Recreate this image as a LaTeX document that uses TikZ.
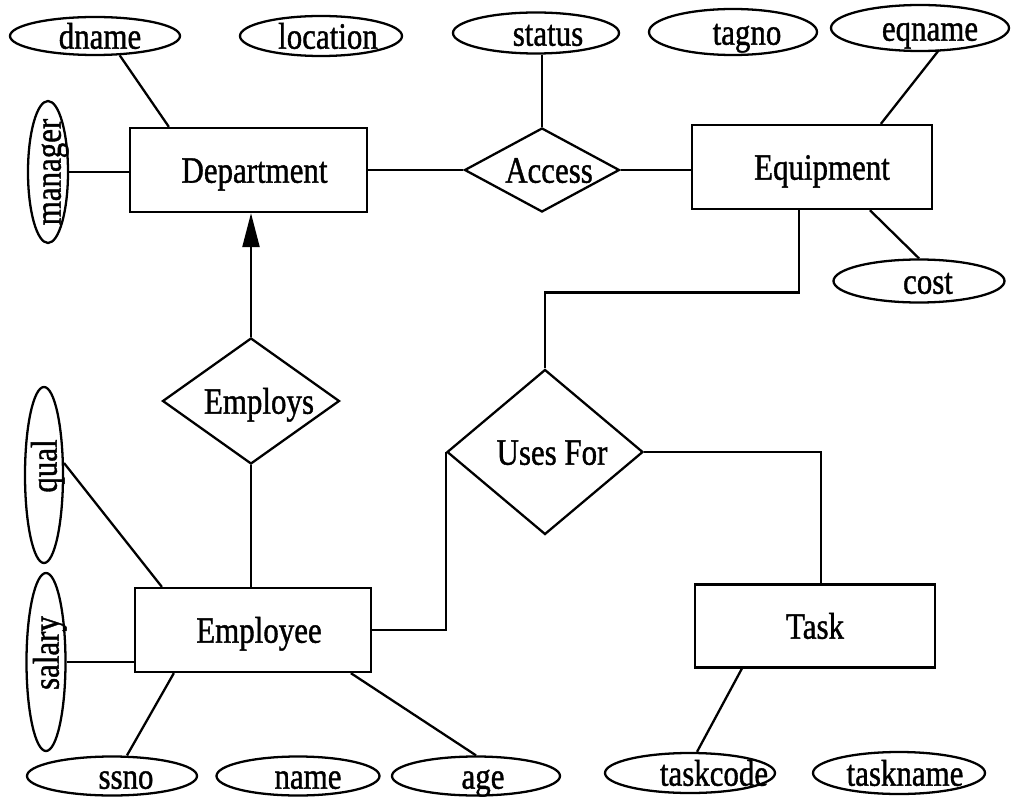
\documentclass[tikz,border=0pt]{standalone}
\usepackage{fontspec}
\setmainfont{Liberation Serif}
\newfontfamily\erfont{Liberation Serif}[FakeBold=1.2]
\usetikzlibrary{shapes.geometric,arrows.meta,calc}
\newlength\pxu
\setlength\pxu{0.02cm}
\newcommand\tx[2]{\makebox[0pt]{\hspace*{#1\pxu}\raisebox{0pt}[25.4\pxu][0pt]{\scalebox{1}[1.2]{#2}}\hspace*{-#1\pxu}}}
\begin{document}
\begin{tikzpicture}[x=0.02cm,y=-0.02cm,line width=1.3pt,
  every node/.style={font=\erfont\fontsize{17.6}{20}\selectfont,inner sep=0pt,line width=1.3pt},
  ent/.style 2 args={draw,rectangle,minimum width=#1*0.02cm,minimum height=#2*0.02cm},
  rel/.style 2 args={draw,diamond,minimum width=#1*0.02cm,minimum height=#2*0.02cm},
  att/.style 2 args={draw,ellipse,minimum width=#1*0.02cm,minimum height=#2*0.02cm},
  isa/.style={-{Triangle[length=0.68cm,width=0.34cm]}}]
\useasboundingbox (0,0) rectangle (1014,797);

% entities
\node[ent={237}{84}] (dept) at (248.5,170) {\tx{6}{Department}};
\node[ent={240}{84}] (equip) at (812,167) {\tx{10}{Equipment}};
\node[ent={236}{84}] (emp) at (253,630) {\tx{6}{Employee}};
\node[ent={240}{83}] (task) at (815,626) {\tx{0}{Task}};

% relationships
\node[rel={155}{84}] (acc) at (542,170) {\tx{7}{Access}};
\node[rel={177}{126}] (employs) at (251,401) {\tx{8}{Employs}};
\node[rel={196}{165}] (uses) at (545,452) {\tx{7}{Uses For}};

% attributes
\node[att={170}{38}] (dname) at (95,36) {\tx{5}{dname}};
\node[att={162}{40}] (loc) at (321,36) {\tx{7}{location}};
\node[att={142}{40},rotate=90] (man) at (48,172) {\tx{0}{manager}};
\node[att={166}{41}] (stat) at (536,33) {\tx{12}{status}};
\node[att={168}{46}] (tag) at (733,32) {\tx{14}{tagno}};
\node[att={178}{46}] (eq) at (920,28) {\tx{10}{eqname}};
\node[att={171}{43}] (cost) at (919,281) {\tx{9}{cost}};
\node[att={176}{38},rotate=90] (qual) at (44,475) {\tx{9}{qual}};
\node[att={178}{39},rotate=90] (sal) at (46,662) {\tx{9}{salary}};
\node[att={170}{39}] (ssno) at (112,776) {\tx{14}{ssno}};
\node[att={163}{39}] (name) at (298,776) {\tx{10}{name}};
\node[att={168}{39}] (age) at (476,776) {\tx{7}{age}};
\node[att={170}{40}] (tc) at (690,773) {\tx{24}{taskcode}};
\node[att={172}{42}] (tn) at (899,773) {\tx{6}{taskname}};

% Department attributes
\draw (dname.-38) -- ($(dept.north west)+(40,0)$);
\draw ($(dept.north west)+(195,0)$) -- ($(dept.north west)+(195,0)$ |- loc.south);
\draw (man) -- (man -| dept.west);

% Access
\draw (acc.north) -- (acc.north |- stat.south);
\draw (dept.east) -- (acc.west);
\draw (acc.east) -- (acc.east -| equip.west);

% Equipment attributes
\draw ($(equip.north west)+(49,0)$) -- ($(equip.north west)+(49,0)$ |- tag.south);
\draw ($(eq.center)+(19,22)$) -- ($(equip.north west)+(190,0)$);
\draw (cost.north) -- ($(equip.south west)+(179,0)$);

% Uses For
\draw ($(equip.south west)+(108,0)$) |- ($(uses.north)+(0,-76)$) -- (uses.north);
\draw (uses.east) -| ($(task.north west)+(127,0)$);
\draw (emp.east) -| (uses.west);

% Employs
\draw[isa] (employs.north) -- (employs.north |- dept.south);
\draw (employs.south) -- (employs.south |- emp.north);

% Employee attributes
\draw ($(qual.center)+(20,-12)$) -- ($(emp.north west)+(28,0)$);
\draw (sal) -- (sal -| emp.west);
\draw ($(emp.south west)+(40,0)$) -- ($(ssno.north)+(15,0)$);
\draw ($(emp.south west)+(158,0)$) -- ($(emp.south west)+(158,0)$ |- name.north);
\draw ($(emp.south west)+(217,0)$) -- (age.north);

% Task attributes
\draw ($(task.south west)+(48,0)$) -- ($(tc.north)+(7,0)$);
\draw ($(task.south west)+(200,0)$) -- ($(task.south west)+(200,0)$ |- tn.north);
\end{tikzpicture}
\end{document}
